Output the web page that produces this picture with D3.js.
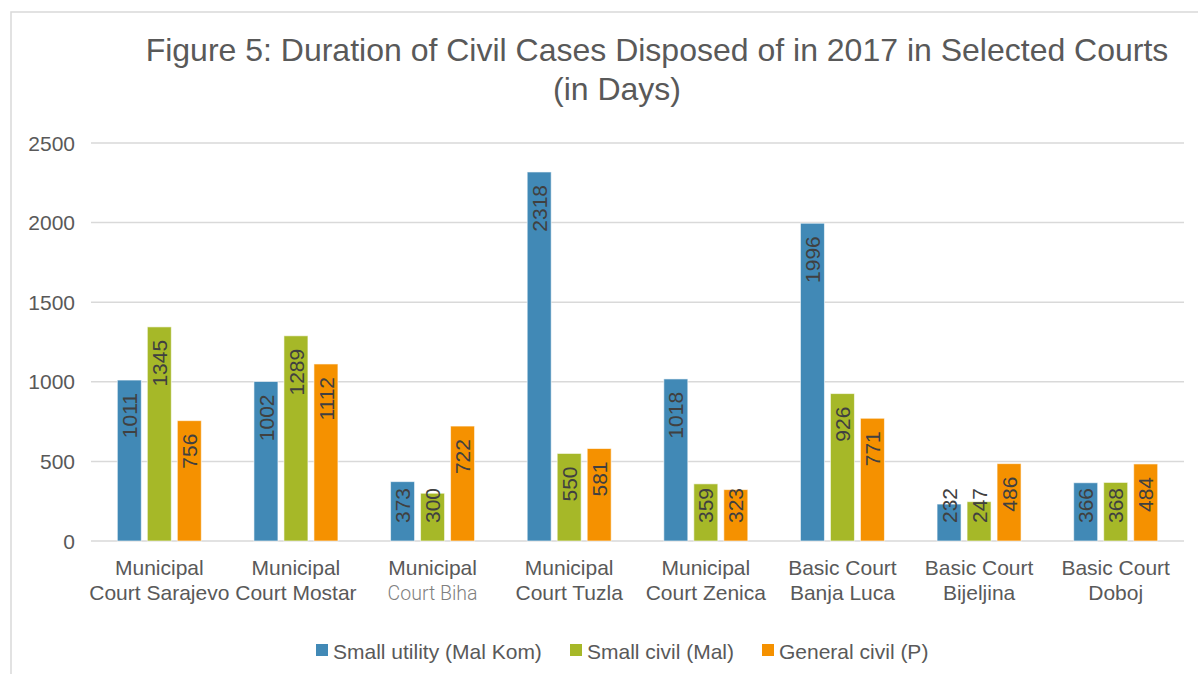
<!DOCTYPE html>
<html>
<head>
<meta charset="utf-8">
<script src="https://cdn.jsdelivr.net/npm/d3@7"></script>
<style>
  body { margin: 0; background: #fff; }
  svg { display: block; font-family: "Liberation Sans", Arial, sans-serif; }
</style>
</head>
<body>
<script>
// Chart data
const courts = [
  ["Municipal", "Court Sarajevo"],
  ["Municipal", "Court Mostar"],
  ["Municipal", "Court Biha"],
  ["Municipal", "Court Tuzla"],
  ["Municipal", "Court Zenica"],
  ["Basic Court", "Banja Luca"],
  ["Basic Court", "Bijeljina"],
  ["Basic Court", "Doboj"]
];
const seriesNames = ["Small utility (Mal Kom)", "Small civil (Mal)", "General civil (P)"];
const smallUtility = [1011, 1002, 373, 2318, 1018, 1996, 232, 366];
const smallCivil = [1345, 1289, 300, 550, 359, 926, 247, 368];
const generalCivil = [756, 1112, 722, 581, 323, 771, 486, 484];
const yTicks = [0, 500, 1000, 1500, 2000, 2500];
const colors = ["#4189b6", "#a6b828", "#f59100"];

const width = 1198, height = 674;
const plotLeft = 91, plotRight = 1184, plotTop = 143, plotBottom = 541;
const fs = 21;

const svg = d3.select("body").append("svg")
    .attr("width", width)
    .attr("height", height);

// outer frame (runs off the right/bottom of the picture)
svg.append("rect")
    .attr("x", 11).attr("y", 12)
    .attr("width", width + 20).attr("height", height + 20)
    .attr("fill", "none")
    .attr("stroke", "#d9d9d9")
    .attr("stroke-width", 1.5);

// Title
svg.append("text")
    .attr("x", 657).attr("y", 61)
    .attr("text-anchor", "middle")
    .attr("font-size", 32)
    .attr("fill", "#595959")
    .text("Figure 5: Duration of Civil Cases Disposed of in 2017 in Selected Courts");
svg.append("text")
    .attr("x", 617).attr("y", 100)
    .attr("text-anchor", "middle")
    .attr("font-size", 32)
    .attr("fill", "#595959")
    .text("(in Days)");

const x0 = d3.scaleBand()
    .domain(d3.range(courts.length))
    .range([plotLeft, plotRight]);

const step = 30;
const x1 = d3.scaleBand()
    .domain(d3.range(seriesNames.length))
    .range([0, x0.bandwidth()])
    .paddingInner(0.2)
    .paddingOuter((x0.bandwidth() / step - 3 + 0.2) / 2);

const y = d3.scaleLinear()
    .domain([0, 2500])
    .range([plotBottom, plotTop]);

// gridlines
svg.append("g")
    .selectAll("line")
    .data(yTicks)
    .enter().append("line")
    .attr("x1", plotLeft).attr("x2", plotRight)
    .attr("y1", d => y(d)).attr("y2", d => y(d))
    .attr("stroke", "#d9d9d9")
    .attr("stroke-width", 1.5);

// y tick labels
svg.append("g")
    .selectAll("text")
    .data(yTicks)
    .enter().append("text")
    .attr("x", 75)
    .attr("y", d => y(d))
    .attr("dy", "0.36em")
    .attr("text-anchor", "end")
    .attr("font-size", fs)
    .attr("fill", "#595959")
    .text(d => d);

const series = [smallUtility, smallCivil, generalCivil];
const bars = [];
series.forEach((vals, s) => {
  vals.forEach((v, i) => bars.push({ s, i, v }));
});

// bars
svg.append("g")
    .selectAll("rect")
    .data(bars)
    .enter().append("rect")
    .attr("x", d => x0(d.i) + x1(d.s))
    .attr("y", d => y(d.v))
    .attr("width", x1.bandwidth())
    .attr("height", d => y(0) - y(d.v))
    .attr("fill", d => colors[d.s])
    .attr("stroke", "#ffffff")
    .attr("stroke-opacity", 0.6)
    .attr("stroke-width", 1);

// value labels, rotated, inside end
const labels = svg.append("g")
    .selectAll("text")
    .data(bars)
    .enter().append("text")
    .attr("text-anchor", "end")
    .attr("dy", "0.36em")
    .attr("font-size", fs)
    .attr("fill", "#404040")
    .text(d => d.v);

labels.attr("transform", function(d) {
  const len = this.getComputedTextLength();
  const cx = x0(d.i) + x1(d.s) + x1.bandwidth() / 2;
  const topY = Math.min(y(d.v) + 13, y(0) - 18 - len);
  return `translate(${cx},${topY}) rotate(-90)`;
});

// category labels
const cats = svg.append("g")
    .selectAll("text")
    .data(courts)
    .enter().append("text")
    .attr("text-anchor", "middle")
    .attr("font-size", fs)
    .attr("fill", "#595959");

cats.append("tspan")
    .attr("x", (d, i) => x0(i) + x0.bandwidth() / 2)
    .attr("y", 575)
    .text(d => d[0]);
cats.append("tspan")
    .attr("x", (d, i) => x0(i) + x0.bandwidth() / 2)
    .attr("y", 600)
    .attr("font-family", (d, i) => i === 2 ? "Roboto, sans-serif" : null)
    .attr("font-weight", (d, i) => i === 2 ? 300 : null)
    .attr("font-size", (d, i) => i === 2 ? 19.5 : null)
    .attr("fill", (d, i) => i === 2 ? "#7f7f7f" : null)
    .text(d => d[1]);

// legend
const legendX = [316, 570, 762];
const legend = svg.append("g")
    .selectAll("g")
    .data(seriesNames)
    .enter().append("g")
    .attr("transform", (d, i) => `translate(${legendX[i]},644)`);

legend.append("rect")
    .attr("width", 12).attr("height", 12)
    .attr("fill", (d, i) => colors[i]);

legend.append("text")
    .attr("x", 17).attr("y", 7)
    .attr("dy", "0.36em")
    .attr("font-size", fs)
    .attr("fill", "#595959")
    .text(d => d);
</script>
</body>
</html>
